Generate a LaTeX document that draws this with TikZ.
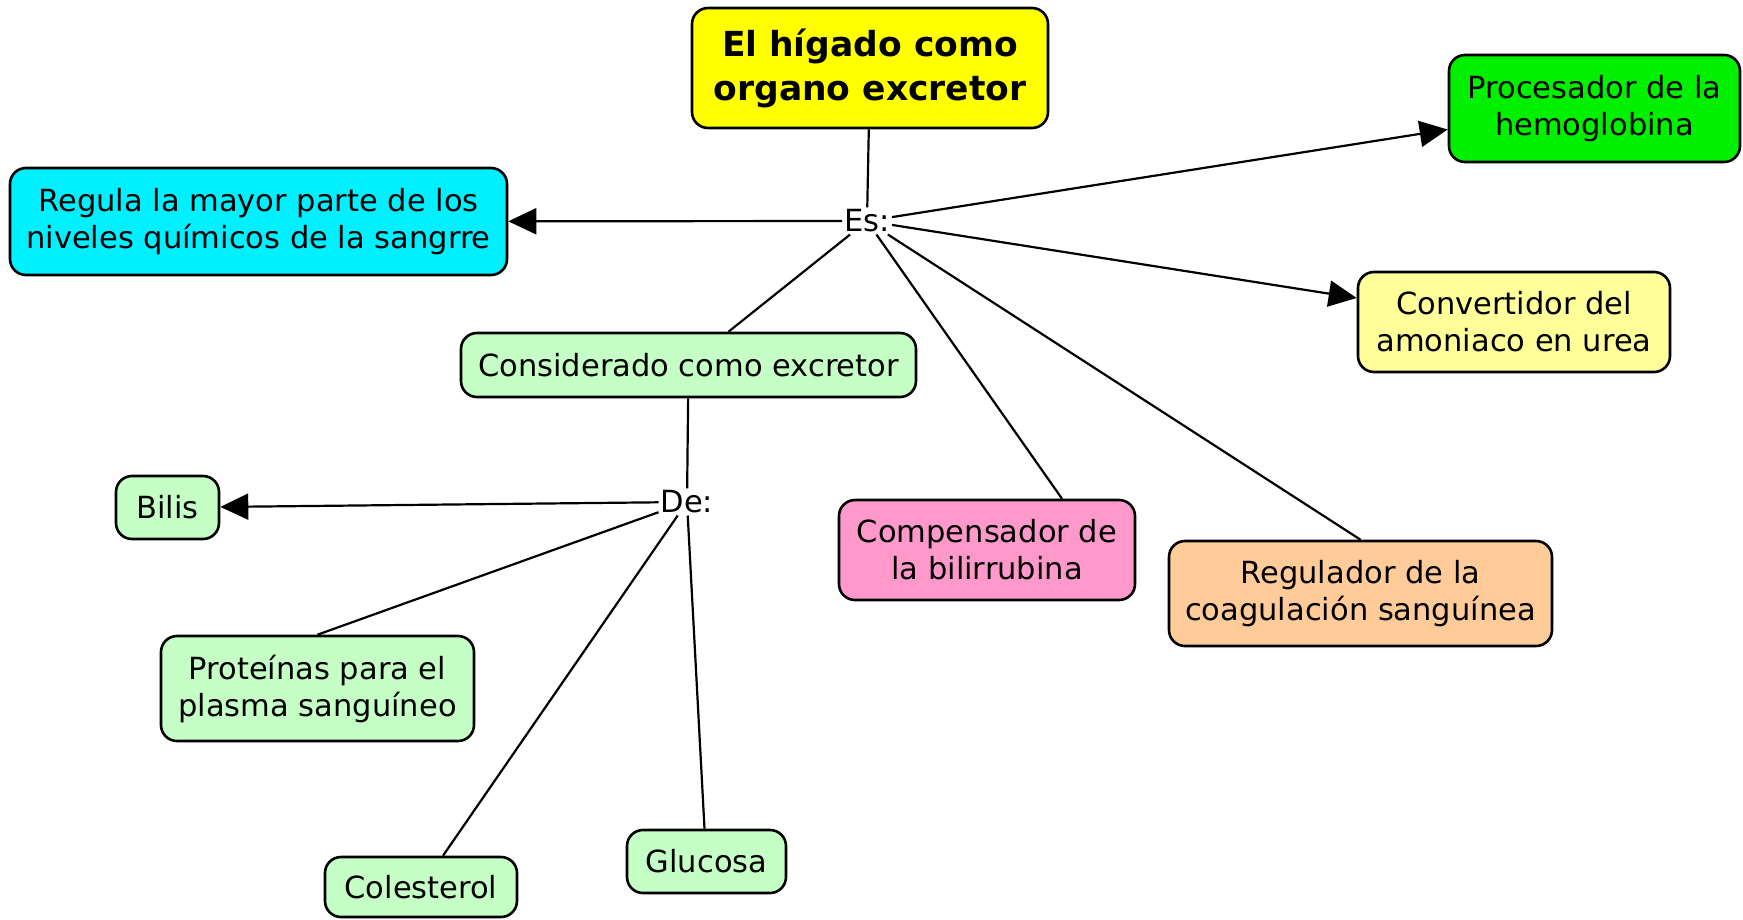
\documentclass[tikz,border=0pt]{standalone}
\usepackage{fontspec}
\setmainfont{DejaVu Sans}
\usetikzlibrary{arrows.meta}
\definecolor{cYellow}{RGB}{255,255,0}
\definecolor{cGreen}{RGB}{0,240,0}
\definecolor{cCyan}{RGB}{0,240,255}
\definecolor{cPaleYellow}{RGB}{255,255,153}
\definecolor{cLightGreen}{RGB}{198,255,198}
\definecolor{cPink}{RGB}{255,153,204}
\definecolor{cPeach}{RGB}{255,204,153}
\tikzset{
  concept/.style={draw=black, line width=2.6pt, rounded corners=16pt, align=center,
    inner sep=0pt, font=\fontsize{30.5}{37}\selectfont, text=black},
  linkphrase/.style={inner sep=2pt, font=\fontsize{30.5}{37}\selectfont, text=black},
  conn/.style={draw=black, line width=2.2pt},
  arr/.style={conn, -{Triangle[length=28pt,width=26pt]}},
}
\begin{document}
\begin{tikzpicture}[x=1pt,y=-1pt]
\useasboundingbox (0,0) rectangle (1743,919);
\node[concept, fill=cYellow, minimum width=356pt, minimum height=120pt,
      font=\fontsize{34.5}{44}\selectfont\bfseries] (top) at (870,68) {El hígado como\\organo excretor};
\node[concept, fill=cGreen, minimum width=291pt, minimum height=107pt] (proc) at (1594.5,108.5) {Procesador de la\\hemoglobina};
\node[concept, fill=cCyan, minimum width=497pt, minimum height=107pt] (regula) at (258.5,221.5) {Regula la mayor parte de los\\niveles químicos de la sangrre};
\node[concept, fill=cPaleYellow, minimum width=312pt, minimum height=100pt] (conv) at (1514,322) {Convertidor del\\amoniaco en urea};
\node[concept, fill=cLightGreen, minimum width=455pt, minimum height=64pt] (cons) at (688.5,365) {Considerado como excretor};
\node[concept, fill=cLightGreen, minimum width=103pt, minimum height=63pt] (bilis) at (167.5,507.5) {Bilis};
\node[concept, fill=cPink, minimum width=296pt, minimum height=100pt] (comp) at (987,550) {Compensador de\\la bilirrubina};
\node[concept, fill=cPeach, minimum width=383pt, minimum height=105pt] (regul) at (1360.5,593.5) {Regulador de la\\coagulación sanguínea};
\node[concept, fill=cLightGreen, minimum width=313pt, minimum height=105pt] (prot) at (317.5,688.5) {Proteínas para el\\plasma sanguíneo};
\node[concept, fill=cLightGreen, minimum width=159pt, minimum height=63pt] (gluc) at (706.5,861.5) {Glucosa};
\node[concept, fill=cLightGreen, minimum width=192pt, minimum height=60pt] (col) at (421,887) {Colesterol};
\node[linkphrase] (es) at (867,221) {Es:};
\node[linkphrase] (de) at (687,502) {De:};
% connectors from the main concept
\draw[conn] (top) -- (es);
\draw[arr] (es) -- (regula);
\draw[arr] (es) -- ([yshift=-21pt]proc.west);
\draw[arr] (es) -- ([yshift=24pt]conv.west);
\draw[conn] (es) -- ([xshift=40pt]cons.north);
\draw[conn] (es) -- ([xshift=75pt]comp.north);
\draw[conn] (es) -- (regul.north);
% connectors from "Considerado como excretor"
\draw[conn] (cons) -- (de);
\draw[arr] (de) -- (bilis);
\draw[conn] (de) -- (prot.north);
\draw[conn] (de) -- ([xshift=22pt]col.north);
\draw[conn] (de) -- ([xshift=-2pt]gluc.north);
\end{tikzpicture}
\end{document}
